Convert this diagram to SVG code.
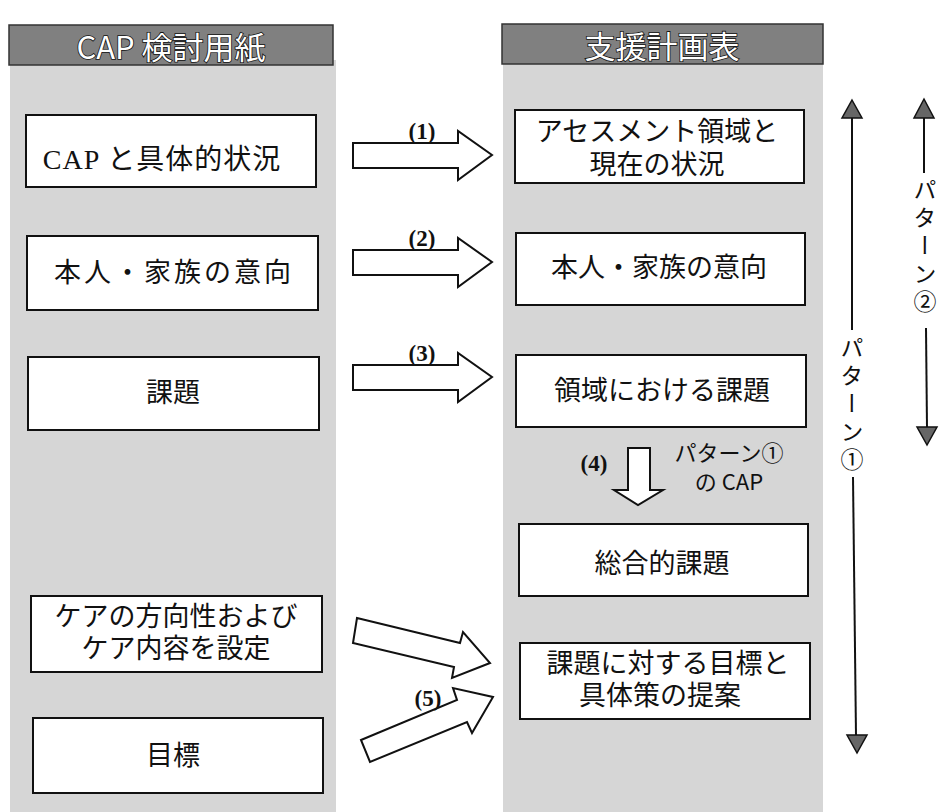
<svg xmlns="http://www.w3.org/2000/svg" width="949" height="812" viewBox="0 0 949 812">
<style>
.col{fill:#d6d6d6}
.hdr{fill:#808080;stroke:#333;stroke-width:1.5}
.htxt{font-family:"Noto Sans CJK JP","DejaVu Sans",sans-serif;font-size:31px;fill:#fff;stroke:#111;stroke-width:1.6;paint-order:stroke;text-anchor:middle;dominant-baseline:central}
.box{fill:#fff;stroke:#111;stroke-width:2}
.t{font-family:"Liberation Serif","Noto Sans CJK JP",serif;font-size:27px;fill:#111;text-anchor:middle;dominant-baseline:central}
.lbl{font-family:"Liberation Serif","Noto Sans CJK JP",serif;font-size:23px;font-weight:bold;fill:#111;text-anchor:middle}
.arr{fill:#fff;stroke:#111;stroke-width:2;stroke-linejoin:miter}
.ln{stroke:#111;stroke-width:2;fill:none}
.head{fill:#666;stroke:#111;stroke-width:1.5}
.vt{font-family:"Noto Sans CJK JP",sans-serif;font-size:23px;fill:#111;writing-mode:vertical-rl;letter-spacing:5px}
.st{font-family:"Noto Sans CJK JP",sans-serif;font-size:22px;fill:#111;text-anchor:middle}
</style>
<rect width="949" height="812" fill="#fff"/>
<rect class="col" x="10" y="60" width="326" height="752"/>
<rect class="col" x="503" y="60" width="320" height="752"/>
<g id="header-cap">
<rect class="hdr" x="9" y="25" width="324" height="40"/>
<text class="htxt" x="171" y="45">CAP 検討用紙</text>
</g>
<g id="header-plan">
<rect class="hdr" x="502" y="24" width="321" height="40"/>
<text class="htxt" x="662" y="44">支援計画表</text>
</g>
<g id="l1"><rect class="box" x="26" y="115" width="290" height="72"/><text class="t" x="162" y="159" style="font-size:28px;letter-spacing:1px">CAP と具体的状況</text></g>
<g id="l2"><rect class="box" x="27" y="236" width="291" height="74"/><text class="t" x="174" y="273" style="letter-spacing:3px">本人・家族の意向</text></g>
<g id="l3"><rect class="box" x="28" y="357" width="291" height="73"/><text class="t" x="173" y="393">課題</text></g>
<g id="l4"><rect class="box" x="31" y="596" width="291" height="76"/><text class="t" x="176" y="617">ケアの方向性および</text><text class="t" x="176" y="649">ケア内容を設定</text></g>
<g id="l5"><rect class="box" x="33" y="718" width="290" height="75"/><text class="t" x="173" y="756">目標</text></g>
<g id="r1"><rect class="box" x="515" y="110" width="289" height="73"/><text class="t" x="657" y="132">アセスメント領域と</text><text class="t" x="657" y="165">現在の状況</text></g>
<g id="r2"><rect class="box" x="516" y="233" width="289" height="72"/><text class="t" x="659" y="268">本人・家族の意向</text></g>
<g id="r3"><rect class="box" x="516" y="355" width="290" height="72"/><text class="t" x="662" y="391">領域における課題</text></g>
<g id="r4"><rect class="box" x="519" y="524" width="289" height="72"/><text class="t" x="662" y="564">総合的課題</text></g>
<g id="r5"><rect class="box" x="520" y="643" width="290" height="76"/><text class="t" x="668" y="664">課題に対する目標と</text><text class="t" x="660" y="696">具体策の提案</text></g>
<g id="connectors">
<polygon class="arr" points="353,143 458,143 458,131 492,155 458,180 458,168 353,168"/>
<text class="lbl" x="422" y="139">(1)</text>
<polygon class="arr" points="353,250 458,250 458,238 492,262 458,287 458,275 353,275"/>
<text class="lbl" x="422" y="246">(2)</text>
<polygon class="arr" points="353,365 458,365 458,353 492,377 458,402 458,390 353,390"/>
<text class="lbl" x="422" y="361">(3)</text>
<polygon class="arr" points="628,448 650,448 650,490 663,490 638,505 614,490 628,490"/>
<text class="lbl" x="594" y="471">(4)</text>
<text class="st" x="729" y="461">パターン①</text>
<text class="st" x="729" y="490">の CAP</text>
<polygon class="arr" points="357,618 460,643 463,632 490,663 452,678 454,667 353,643"/>
<polygon class="arr" points="361,740 457,700 453,688 493,697 472,733 467,722 370,762"/>
<text class="lbl" x="428" y="706">(5)</text>
<g id="pattern1">
<line class="ln" x1="852" y1="117" x2="852" y2="330"/>
<line class="ln" x1="853" y1="477" x2="856" y2="736"/>
<polygon class="head" points="852,100 862,118 842,118"/>
<polygon class="head" points="857,753 847,735 867,735"/>
<text class="vt" x="852" y="336">パターン①</text>
</g>
<g id="pattern2">
<line class="ln" x1="924" y1="117" x2="924" y2="173"/>
<line class="ln" x1="926" y1="328" x2="927" y2="428"/>
<polygon class="head" points="924,99 934,118 914,118"/>
<polygon class="head" points="927,445 917,427 937,427"/>
<text class="vt" x="925" y="178">パターン②</text>
</g>
</g>
</svg>
